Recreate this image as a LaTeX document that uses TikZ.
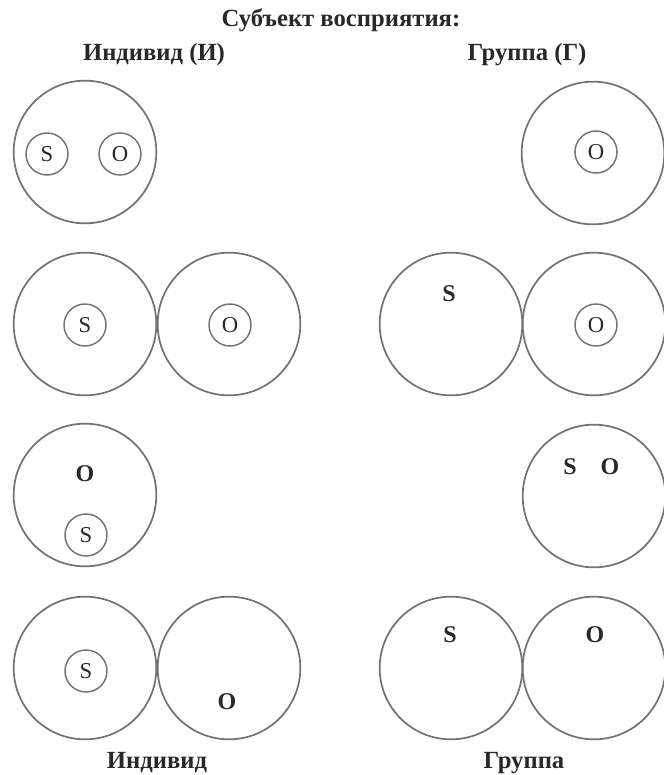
\documentclass[tikz,border=0pt]{standalone}
\usepackage{fontspec}
\setmainfont{Liberation Serif}
\usetikzlibrary{positioning}
\definecolor{ringgray}{RGB}{115,115,115}
\definecolor{inkgray}{RGB}{40,40,40}
\tikzset{
  bigring/.style={
    circle, draw=ringgray, line width=1.3pt,
    minimum size=107pt, inner sep=0pt
  },
  smallring/.style={
    circle, draw=ringgray, line width=1.1pt,
    minimum size=31.5pt, inner sep=0pt, text=inkgray,
    font=\fontsize{17}{17}\selectfont
  },
  glyph/.style={
    text=inkgray, inner sep=0pt,
    font=\bfseries\fontsize{18}{18}\selectfont
  },
  heading/.style={
    text=inkgray, inner sep=1pt,
    font=\bfseries\fontsize{18.5}{21}\selectfont
  },
}

\begin{document}
\begin{tikzpicture}[x=0.75pt, y=-0.75pt]
		\useasboundingbox (0,0) rectangle (664,775);

		%% Headings
		\node[heading] (title) at (341,20)  {Субъект восприятия:};
		\node[heading] (hind)  at (154,55)  {Индивид (И)};
		\node[heading] (hgrp)  at (527,55)  {Группа (Г)};

		%% Row 1
		\node[bigring]   (ia)  at (85,152)  {};
		\node[smallring] (ias) at (47,154)  {S};
		\node[smallring] (iao) at (120,154) {O};
		\node[bigring]   (ga)  at (593,153) {};
		\node[smallring] (gao) at (596,152) {O};

		%% Row 2
		\node[bigring]   (ib1) at (85,324)  {};
		\node[bigring]   (ib2) at (229,324) {};
		\node[smallring] (ibs) at (85,325)  {S};
		\node[smallring] (ibo) at (230,325) {O};
		\node[bigring]   (gb1) at (451,324) {};
		\node[bigring]   (gb2) at (594,324) {};
		\node[glyph]     (gbs) at (449,294) {S};
		\node[smallring] (gbo) at (596,325) {O};

		%% Row 3
		\node[bigring]   (ic)  at (85,495)  {};
		\node[glyph]     (ico) at (85,474)  {O};
		\node[smallring] (ics) at (86,535)  {S};
		\node[bigring]   (gc)  at (594,496) {};
		\node[glyph]     (gcs) at (570,467) {S};
		\node[glyph]     (gco) at (610,467) {O};

		%% Row 4
		\node[bigring]   (id1) at (85,668)  {};
		\node[bigring]   (id2) at (229,668) {};
		\node[smallring] (ids) at (86,671)  {S};
		\node[glyph]     (ido) at (227,702) {O};
		\node[bigring]   (gd1) at (451,668) {};
		\node[bigring]   (gd2) at (594,668) {};
		\node[glyph]     (gds) at (450,635) {S};
		\node[glyph]     (gdo) at (595,635) {O};

		%% Captions
		\node[heading] (cind) at (157,763) {Индивид};
		\node[heading] (cgrp) at (524,763) {Группа};

	\end{tikzpicture}
\end{document}
